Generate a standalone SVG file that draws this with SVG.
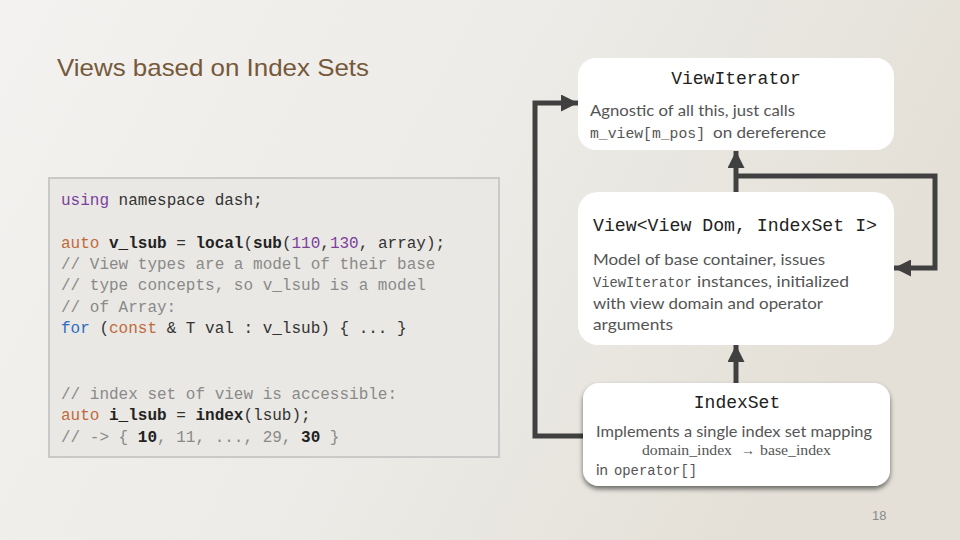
<svg xmlns="http://www.w3.org/2000/svg" width="960" height="540" viewBox="0 0 960 540">
  <defs>
    <linearGradient id="bg" x1="0" y1="0" x2="1" y2="0.3">
      <stop offset="0" stop-color="#f3f2f0"/>
      <stop offset="0.55" stop-color="#ecebe7"/>
      <stop offset="1" stop-color="#e4e0d7"/>
    </linearGradient>
    <filter id="shadow" x="-10%" y="-10%" width="120%" height="130%">
      <feGaussianBlur in="SourceAlpha" stdDeviation="2.5"/>
      <feOffset dx="0" dy="3" result="b"/>
      <feComponentTransfer><feFuncA type="linear" slope="0.55"/></feComponentTransfer>
      <feMerge><feMergeNode/><feMergeNode in="SourceGraphic"/></feMerge>
    </filter>
    <marker id="arrow" viewBox="0 0 10 10" refX="10" refY="5" markerWidth="3.4" markerHeight="3.4" markerUnits="strokeWidth" orient="auto">
      <path d="M0,0 L10,5 L0,10 z" fill="#404040"/>
    </marker>
  </defs>
  <style>
    .title { font-family: "Liberation Sans", Arial, sans-serif; font-size: 24px; fill: #76593a; }
    .box { fill: #ffffff; }
    .head { font-family: "Liberation Mono", "DejaVu Sans Mono", monospace; font-size: 18px; fill: #222; }
    .body { font-family: Lato, "Open Sans", sans-serif; font-size: 15px; fill: #555; }
    .mono { font-family: "Liberation Mono", "DejaVu Sans Mono", monospace; }
    .math { font-family: "Liberation Serif", "Times New Roman", serif; font-size: 14px; fill: #555; }
    .code { font-family: "Liberation Mono", "DejaVu Sans Mono", monospace; font-size: 16px; fill: #333; }
    .kw { fill: #7b3f9e; }
    .ty { fill: #c06a3c; }
    .fl { fill: #2f6cc0; }
    .num { fill: #7b3f9e; }
    .b { font-weight: bold; fill: #222; }
    .cm { fill: #8a8a8a; }
    .conn { fill: none; stroke: #404040; stroke-width: 5; }
    .pnum { font-family: "Liberation Sans", Arial, sans-serif; font-size: 13px; fill: #8a8a8a; }
  </style>

  <rect x="0" y="0" width="960" height="540" fill="url(#bg)"/>

  <text class="title" x="57" y="76" textLength="312" lengthAdjust="spacingAndGlyphs">Views based on Index Sets</text>

  <g id="code">
    <rect x="49" y="178" width="450" height="279" fill="#e9e8e4" stroke="#c9c9c7" stroke-width="2"/>
    <text class="code" x="61" y="205"><tspan class="kw">using</tspan> namespace dash;</text>
    <text class="code" x="61" y="248"><tspan class="ty">auto</tspan> <tspan class="b">v_lsub</tspan> = <tspan class="b">local</tspan>(<tspan class="b">sub</tspan>(<tspan class="num">110</tspan>,<tspan class="num">130</tspan>, array);</text>
    <text class="code cm" x="61" y="269">// View types are a model of their base</text>
    <text class="code cm" x="61" y="290">// type concepts, so v_lsub is a model</text>
    <text class="code cm" x="61" y="312">// of Array:</text>
    <text class="code" x="61" y="333"><tspan class="fl">for</tspan> (<tspan class="ty">const</tspan> &amp; T val : v_lsub) { ... }</text>
    <text class="code cm" x="61" y="399">// index set of view is accessible:</text>
    <text class="code" x="61" y="420"><tspan class="ty">auto</tspan> <tspan class="b">i_lsub</tspan> = <tspan class="b">index</tspan>(lsub);</text>
    <text class="code cm" x="61" y="442">// -&gt; { <tspan class="b">10</tspan>, 11, ..., 29, <tspan class="b">30</tspan> }</text>
  </g>

  <g id="connectors">
    <path class="conn" d="M583,436 H535 V103 H578" marker-end="url(#arrow)"/>
    <path class="conn" d="M736,192 V151" marker-end="url(#arrow)"/>
    <path class="conn" d="M736,176 H935 V268 H894" marker-end="url(#arrow)"/>
    <path class="conn" d="M736,383 V345" marker-end="url(#arrow)"/>
  </g>

  <g id="viewiterator">
    <rect class="box" x="578" y="58" width="316" height="92" rx="18"/>
    <text class="head" x="736" y="84" text-anchor="middle">ViewIterator</text>
    <text class="body" x="590" y="116" textLength="205" lengthAdjust="spacingAndGlyphs">Agnostic of all this, just calls</text>
    <text class="body" y="138"><tspan class="mono" x="590" font-size="14.7" textLength="115" lengthAdjust="spacingAndGlyphs">m_view[m_pos]</tspan><tspan x="713" textLength="113" lengthAdjust="spacingAndGlyphs">on dereference</tspan></text>
  </g>

  <g id="view">
    <rect class="box" x="578" y="192" width="316" height="153" rx="20"/>
    <text class="head" x="593" y="231" textLength="284" lengthAdjust="spacingAndGlyphs">View&lt;View Dom, IndexSet I&gt;</text>
    <text class="body" x="593" y="265" textLength="232" lengthAdjust="spacingAndGlyphs">Model of base container, issues</text>
    <text class="body" y="287"><tspan class="mono" x="593" font-size="13.8" textLength="99" lengthAdjust="spacingAndGlyphs">ViewIterator</tspan><tspan x="697" textLength="152" lengthAdjust="spacingAndGlyphs">instances, initialized</tspan></text>
    <text class="body" x="593" y="309" textLength="230" lengthAdjust="spacingAndGlyphs">with view domain and operator</text>
    <text class="body" x="593" y="330" textLength="80" lengthAdjust="spacingAndGlyphs">arguments</text>
  </g>

  <g id="indexset">
    <rect class="box" x="583" y="383" width="307" height="103" rx="16" filter="url(#shadow)"/>
    <text class="head" x="737" y="408" text-anchor="middle" font-size="17.5">IndexSet</text>
    <text class="body" x="596" y="437" textLength="276" lengthAdjust="spacingAndGlyphs">Implements a single index set mapping</text>
    <text class="math" y="455"><tspan x="642" textLength="90" lengthAdjust="spacingAndGlyphs">domain_index</tspan><tspan x="741">→</tspan><tspan x="760" textLength="71" lengthAdjust="spacingAndGlyphs">base_index</tspan></text>
    <text class="body" y="475"><tspan x="596">in</tspan><tspan class="mono" x="614" font-size="13.8" textLength="83" lengthAdjust="spacingAndGlyphs">operator[]</tspan></text>
  </g>

  <text class="pnum" x="872" y="520">18</text>
</svg>
